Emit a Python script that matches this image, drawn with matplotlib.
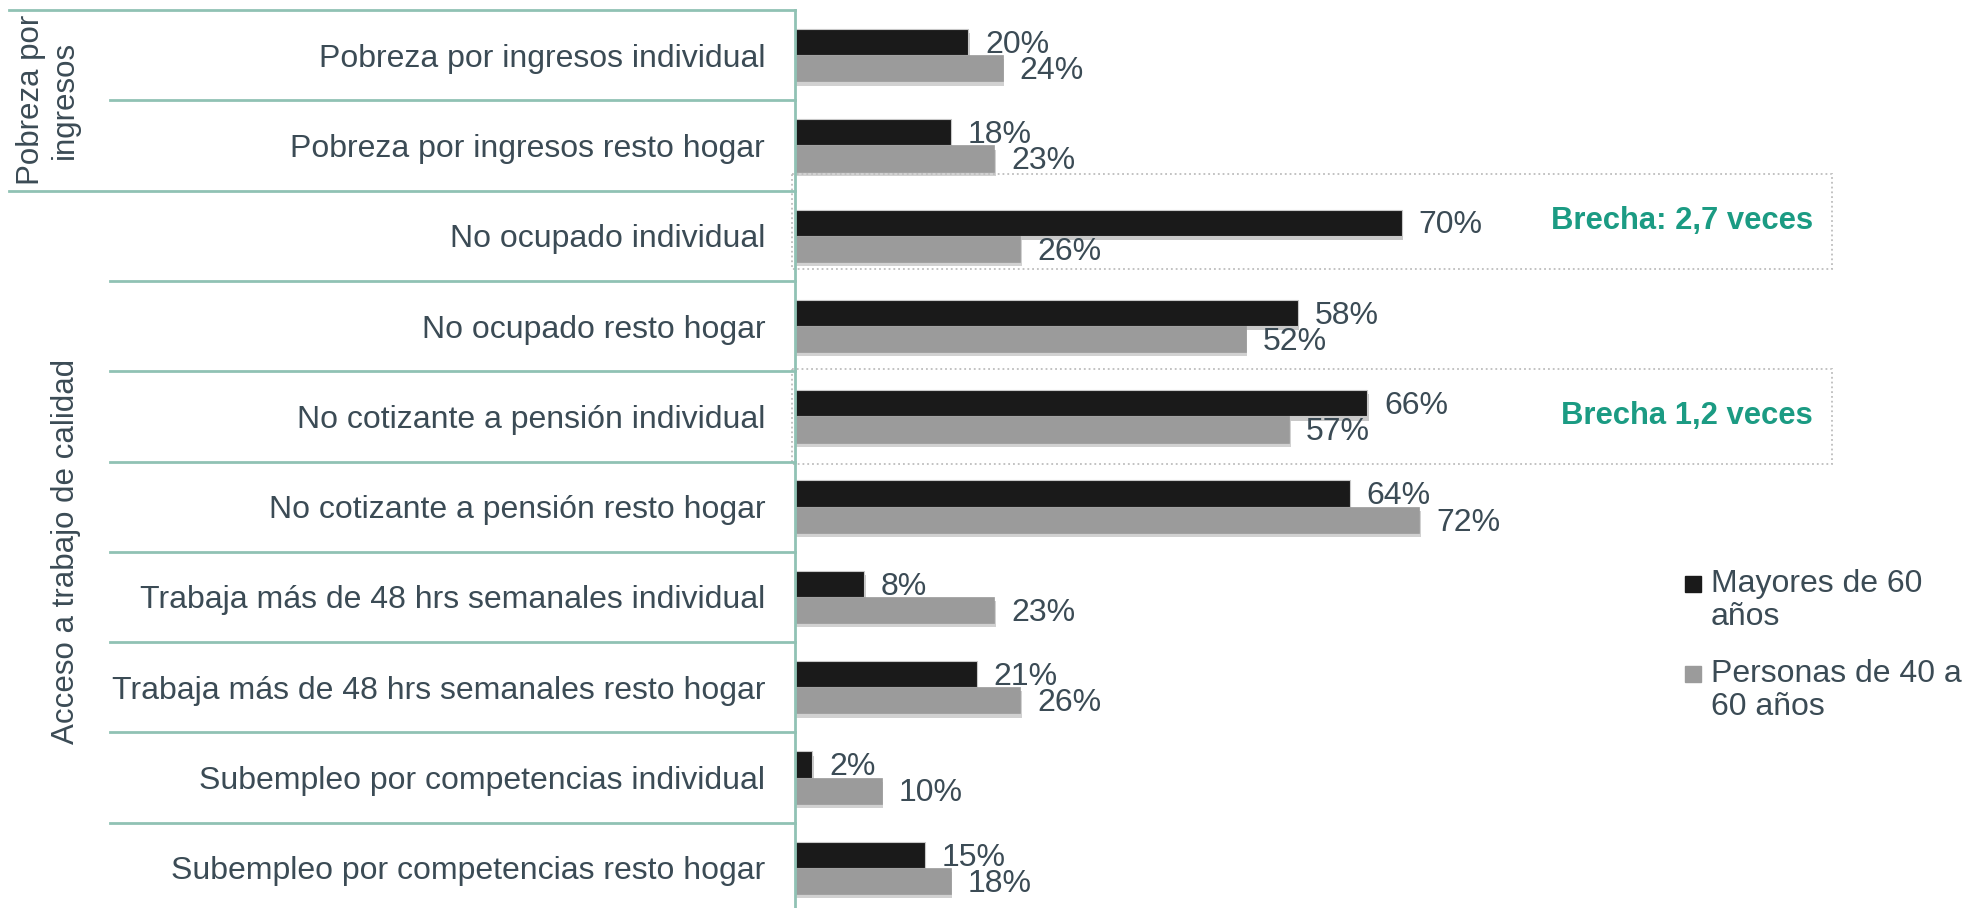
# Brechas de mayores de 60 vs personas de 40 a 60 años
import numpy as np
import matplotlib
matplotlib.use("Agg")
import matplotlib.pyplot as plt
import matplotlib.transforms as mtransforms
import matplotlib.patheffects as pe
from matplotlib.patches import Rectangle

plt.rcParams['font.family'] = ['Liberation Sans', 'DejaVu Sans']

# datos
categorias = [
    "Pobreza por ingresos individual",
    "Pobreza por ingresos resto hogar",
    "No ocupado individual",
    "No ocupado resto hogar",
    "No cotizante a pensión individual",
    "No cotizante a pensión resto hogar",
    "Trabaja más de 48 hrs semanales individual",
    "Trabaja más de 48 hrs semanales resto hogar",
    "Subempleo por competencias individual",
    "Subempleo por competencias resto hogar",
]
mayores_60 = [20, 18, 70, 58, 66, 64, 8, 21, 2, 15]
personas_40_60 = [24, 23, 26, 52, 57, 72, 23, 26, 10, 18]
series = ["Mayores de 60\naños", "Personas de 40 a\n60 años"]
grupos = ["Pobreza por\ningresos", "Acceso a trabajo de calidad"]
grupo_filas = [(0, 1), (2, 9)]
brechas = ["Brecha: 2,7 veces", "Brecha 1,2 veces"]
brecha_filas = [2, 4]

# colores
NEGRO = '#1a1a1a'
GRIS = '#9b9b9b'
TEXTO = '#3b4b55'
VERDE = '#1b9b83'
LINEA = '#90c2b4'

W, H = 1964, 908
fig = plt.figure(figsize=(W / 100, H / 100), dpi=100)

# posición del eje en píxeles
x0, x1 = 795, 1832
y_top, row_h = 10, 90.3
y_bot = y_top + row_h * 10
ax = fig.add_axes([x0 / W, (H - y_bot) / H, (x1 - x0) / W, (y_bot - y_top) / H])

px_pct = 8.67
xmax = (x1 - x0) / px_pct
y = np.arange(len(categorias))
h = 0.29

sombra = [pe.SimplePatchShadow(offset=(1, -3), alpha=0.22), pe.Normal()]
b1 = ax.barh(y - h / 2, mayores_60, height=h, color=NEGRO, edgecolor='#c8c8c8', linewidth=0.8)
b2 = ax.barh(y + h / 2, personas_40_60, height=h, color=GRIS, edgecolor=GRIS, linewidth=0.5)
for b in list(b1) + list(b2):
    b.set_path_effects(sombra)

# etiquetas de valores
for i, (a, b) in enumerate(zip(mayores_60, personas_40_60)):
    ax.annotate(f"{a}%", xy=(a, i - h / 2), xytext=(12, -2), textcoords='offset points',
                va='center', ha='left', fontsize=23, color=TEXTO)
    ax.annotate(f"{b}%", xy=(b, i + h / 2), xytext=(12, -2), textcoords='offset points',
                va='center', ha='left', fontsize=23, color=TEXTO)

ax.set_xlim(0, xmax)
ax.set_ylim(len(categorias) - 0.5, -0.5)
ax.set_yticks(y)
ax.set_yticklabels(categorias, fontsize=23, color=TEXTO)
ax.tick_params(axis='y', length=0, pad=21.5)
ax.set_xticks([])
for s in ['top', 'right', 'bottom']:
    ax.spines[s].set_visible(False)
ax.spines['left'].set_color(LINEA)
ax.spines['left'].set_linewidth(2)

# cajas punteadas con brecha
for txt, fila in zip(brechas, brecha_filas):
    if fila == 2:
        top, bot = fila - 0.685, fila + 0.364
    else:
        top, bot = fila - 0.522, fila + 0.525
    ax.add_patch(Rectangle((-0.35, top), xmax + 0.35, bot - top, fill=False,
                           edgecolor='#bdbdbd', linestyle=':', linewidth=1.3, clip_on=False))
    ax.text((1813 - x0) / px_pct, (top + bot) / 2, txt, ha='right', va='center',
            fontsize=22.3, fontweight='bold', color=VERDE)

# líneas separadoras de filas y grupos
tr = mtransforms.blended_transform_factory(fig.transFigure, ax.transData)
limites = [g[0] for g in grupo_filas]
for k in range(len(categorias)):
    yl = k - 0.5
    xs = 9 if k in limites else 110
    ax.plot([xs / W, x0 / W], [yl, yl], color=LINEA, lw=2, transform=tr, clip_on=False)

# etiquetas de grupo
for g, (a, b), xc in zip(grupos, grupo_filas, [48, 66]):
    ax.text(xc / W, (a + b) / 2, g, transform=tr, rotation=90, ha='center', va='center',
            fontsize=22.5, color=TEXTO, linespacing=1.15)

# leyenda
for lab, col, ybase in zip(series, [NEGRO, GRIS], [593, 683]):
    fig.patches.append(Rectangle((1685 / W, (H - ybase + 1) / H), 16 / W, 16 / H,
                                 transform=fig.transFigure, color=col, figure=fig))
    fig.text(1711 / W, (H - ybase + 24) / H, lab, ha='left', va='top',
             fontsize=23, color=TEXTO, linespacing=1.15)

fig.savefig("out.png", dpi=100, facecolor='white')
